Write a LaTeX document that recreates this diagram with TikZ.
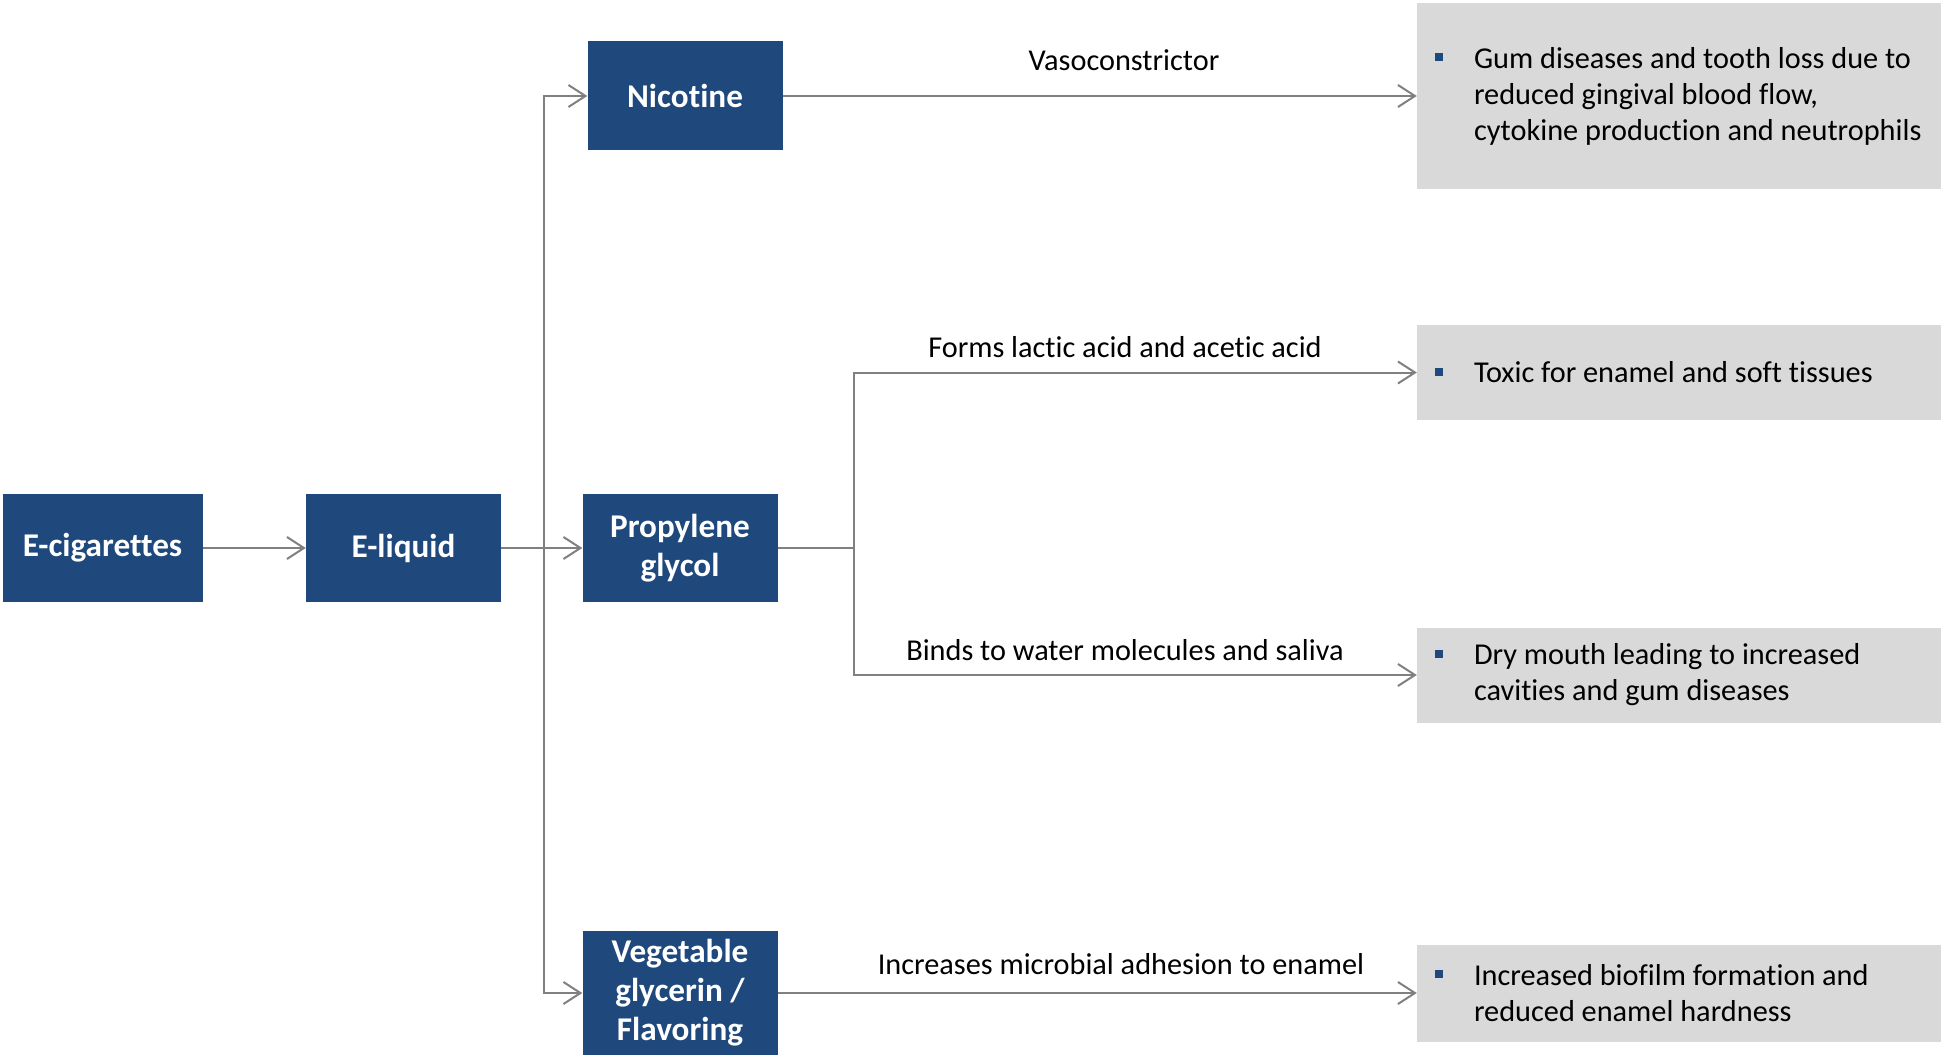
\documentclass[tikz,border=0pt]{standalone}
\usepackage{fontspec}
\setmainfont{Carlito}[Ligatures=NoCommon]
\usetikzlibrary{arrows.meta}
\definecolor{boxblue}{RGB}{31,73,125}
\definecolor{boxgrey}{RGB}{217,217,217}
\definecolor{linegrey}{RGB}{128,128,128}
\newcommand{\sqitem}{\makebox[39pt][l]{\textcolor{boxblue}{\rule[7pt]{8pt}{8pt}}}}
\newcommand{\indentline}{\hspace*{39pt}}

\begin{document}
\begin{tikzpicture}[x=1pt, y=-1pt,
    comp/.style={fill=boxblue, text=white, font=\fontsize{33.2}{39}\selectfont\bfseries, align=center, inner sep=0pt, minimum width=195pt, minimum height=108pt},
    effect/.style={fill=boxgrey, inner sep=0pt, minimum width=524pt},
    effecttext/.style={anchor=west, align=left, inner sep=0pt, font=\fontsize{30.3}{36}\selectfont},
    lbl/.style={anchor=base, inner sep=0pt, font=\fontsize{30.3}{36}\selectfont},
    conn/.style={draw=linegrey, line width=2pt, -{Straight Barb[length=17pt,width=22pt]}}]

            \useasboundingbox (0,0) rectangle (1946,1059);

            % Components (blue boxes)
            \node[comp, minimum width=200pt] (ecig) at (102.5,548) {E-cigarettes};
            \node[comp] (eliquid) at (403.5,548) {E-liquid};
            \node[comp, minimum height=109pt] (nicotine) at (685,96) {Nicotine};
            \node[comp] (propylene) at (680,548) {Propylene\\glycol};
            \node[comp, minimum height=124pt] (vegetable) at (680,993) {Vegetable\\glycerin /\\Flavoring};

            % Effects (grey boxes)
            \node[effect, minimum height=186pt] (gum) at (1679,96) {};
            \node[effect, minimum height=95pt] (toxic) at (1679,372.5) {};
            \node[effect, minimum height=95pt] (dry) at (1679,675) {};
            \node[effect, minimum height=97pt] (biofilm) at (1679,993) {};

            \node[effecttext] (gumtext) at ([xshift=18pt]gum.west) {\sqitem Gum diseases and tooth loss due to\\\indentline reduced gingival blood flow,\\\indentline cytokine production and neutrophils};
            \node[effecttext] (toxictext) at ([xshift=18pt]toxic.west) {\sqitem Toxic for enamel and soft tissues};
            \node[effecttext] (drytext) at ([xshift=18pt]dry.west) {\sqitem Dry mouth leading to increased\\\indentline cavities and gum diseases};
            \node[effecttext] (biofilmtext) at ([xshift=18pt]biofilm.west) {\sqitem Increased biofilm formation and\\\indentline reduced enamel hardness};

            % Labels over the arrows
            \node[lbl] (vaso) at (1124,71) {Vasoconstrictor};
            \node[lbl] (lactic) at (1125,357) {Forms lactic acid and acetic acid};
            \node[lbl] (water) at (1125,660) {Binds to water molecules and saliva};
            \node[lbl] (microbial) at (1121,974) {Increases microbial adhesion to enamel};

            % Connectors
            \coordinate (split) at (544,548); % branch of e-liquid
            \coordinate (fork) at (854,548); % branch of propylene glycol
            \draw[conn] (ecig) -- (eliquid);
            \draw[conn] (eliquid) -- (propylene);
            \draw[conn] (split) |- (nicotine);
            \draw[conn] (split) |- (vegetable);
            \draw[conn] (nicotine) -- (gum);
            \draw[conn] (propylene) -- (fork) |- (toxic);
            \draw[conn] (fork) |- (dry);
            \draw[conn] (vegetable) -- (biofilm);

\end{tikzpicture}
\end{document}
